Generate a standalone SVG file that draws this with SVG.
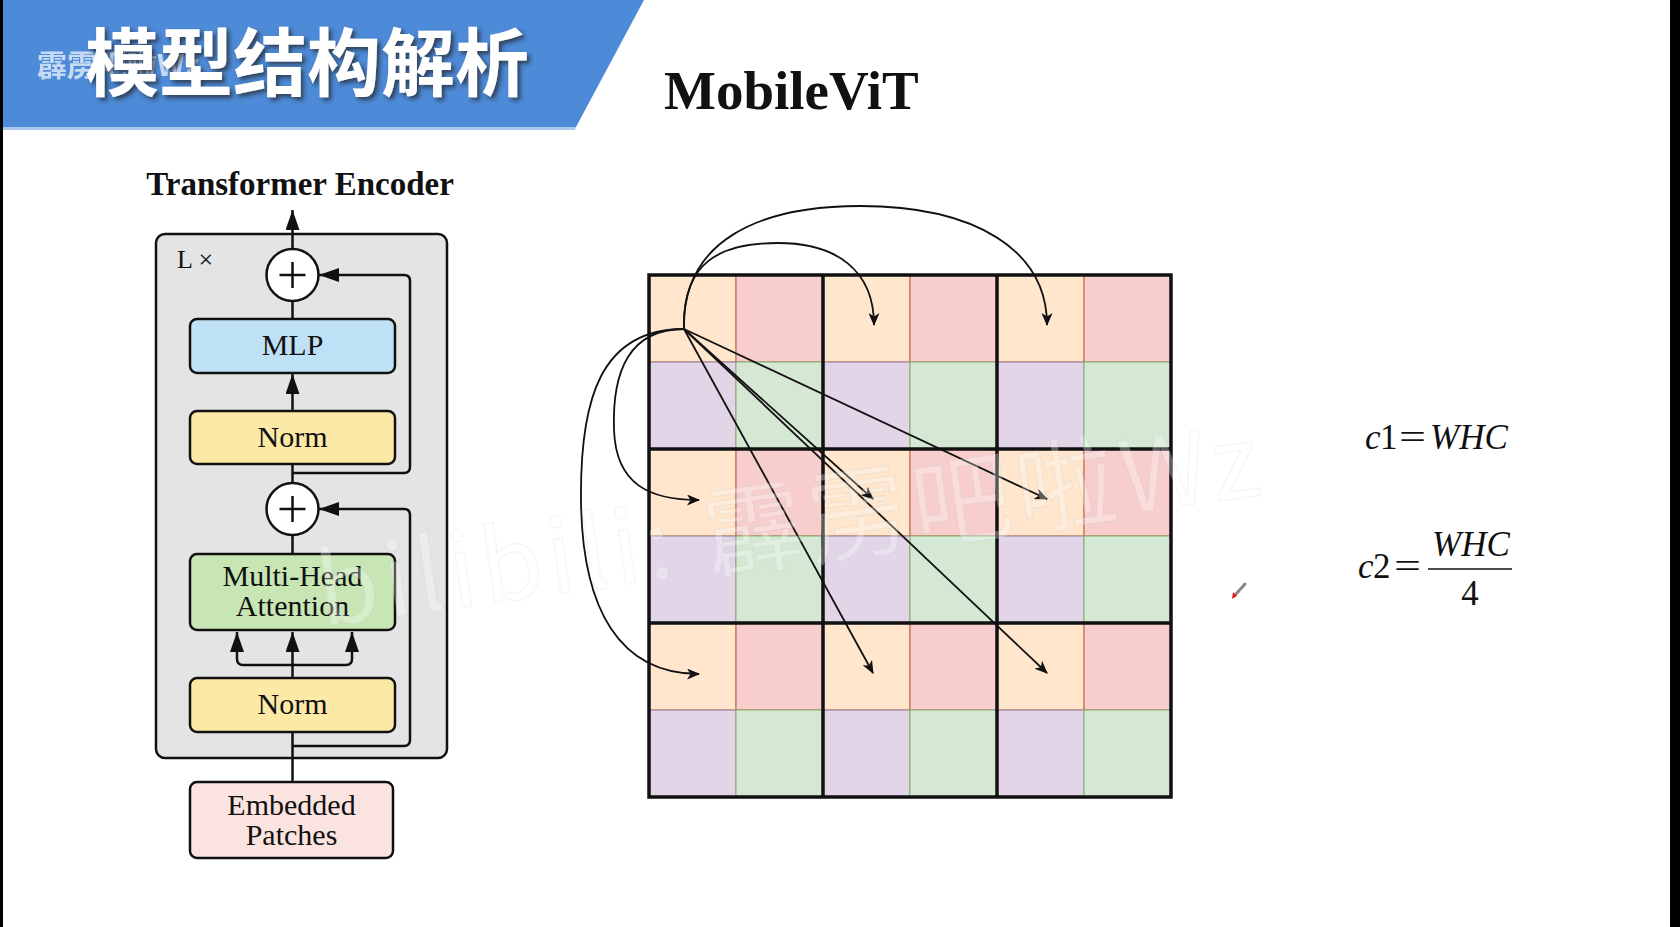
<svg xmlns="http://www.w3.org/2000/svg" width="1680" height="927" viewBox="0 0 1680 927">
<style>
.serif{font-family:"Liberation Serif","Times New Roman",serif;fill:#111}
.box{stroke:#111;stroke-width:2.5}
.ln{fill:none;stroke:#111;stroke-width:2.5}
.ga{fill:none;stroke:#111;stroke-width:1.8}
.pe{fill:#ffe6cc;stroke:#d79b00;stroke-width:1}
.pk{fill:#f8cecc;stroke:#b85450;stroke-width:1}
.lv{fill:#e1d5e7;stroke:#9673a6;stroke-width:1}
.gr{fill:#d5e8d4;stroke:#82b366;stroke-width:1}
.thick{stroke:#111;stroke-width:3.5;fill:none}
.lbl{font-size:30px;text-anchor:middle}
.eq{font-family:"Liberation Serif","Times New Roman",serif;font-size:35px;fill:#111}
</style>
<defs>
<marker id="tri" markerUnits="userSpaceOnUse" markerWidth="20" markerHeight="14" refX="20" refY="7" orient="auto"><path d="M0,0 L20,7 L0,14 z" fill="#111"/></marker>
<marker id="cls" markerUnits="userSpaceOnUse" markerWidth="13" markerHeight="11" refX="12" refY="5.5" orient="auto"><path d="M0,0 L13,5.5 L0,11 L3.5,5.5 z" fill="#111"/></marker>
<filter id="sh" x="-10%" y="-20%" width="130%" height="150%"><feDropShadow dx="3" dy="3" stdDeviation="2" flood-color="#222" flood-opacity="0.7"/></filter>
</defs>
<rect width="1680" height="927" fill="#ffffff"/>
<rect x="0" y="0" width="3" height="927" fill="#000"/>
<rect x="1670" y="0" width="10" height="927" fill="#000"/>

<g id="header">
<polygon points="3,0 644,0 576,127 3,127" fill="#4d8ad7"/>
<polygon points="3,127 576,127 575,130 3,130" fill="#aac8ef"/>
<text x="37" y="76" font-family="'Noto Sans CJK SC',sans-serif" font-weight="700" font-size="30" fill="#d3e3f7" opacity="0.9">霹雳吧啦Wz</text>
<text x="85" y="90" font-family="'Noto Sans CJK SC',sans-serif" font-weight="700" font-size="74" fill="#ffffff" filter="url(#sh)">模型结构解析</text>
</g>

<text id="title" x="664" y="109" class="serif" font-weight="700" font-size="55">MobileViT</text>

<g id="transformer">
<text x="300" y="195" class="serif" font-weight="700" font-size="33" text-anchor="middle">Transformer Encoder</text>
<g id="outer"><rect x="156" y="234" width="291" height="524" rx="9" fill="#e4e4e4" class="box"/>
<text x="177" y="268" class="serif" font-size="26">L ×</text></g>
<g id="connectors">
<path class="ln" d="M292.5,249 V210" marker-end="url(#tri)"/>
<path class="ln" d="M292.5,301 V319"/>
<path class="ln" d="M292.5,411 V374" marker-end="url(#tri)"/>
<path class="ln" d="M292.5,464 V483"/>
<path class="ln" d="M292.5,535 V554"/>
<path class="ln" d="M292.5,732 V782"/>
<path class="ln" d="M292.5,473 H404 Q410,473 410,467 V281 Q410,275 404,275 H319" marker-end="url(#tri)"/>
<path class="ln" d="M292.5,746 H404 Q410,746 410,740 V515 Q410,509 404,509 H319" marker-end="url(#tri)"/>
<path class="ln" d="M292.5,678 V632" marker-end="url(#tri)"/>
<path class="ln" d="M292.5,665 H243 Q237,665 237,659 V632" marker-end="url(#tri)"/>
<path class="ln" d="M292.5,665 H346 Q352,665 352,659 V632" marker-end="url(#tri)"/>
</g>
<g id="add1"><circle cx="292.5" cy="275" r="26" fill="#fff" class="box"/><path class="ln" d="M279.5,275 H305.5 M292.5,262 V288"/></g>
<g id="mlp"><rect x="190" y="319" width="205" height="54" rx="7" fill="#bfe1f6" class="box"/><text x="292.5" y="355" class="serif lbl">MLP</text></g>
<g id="norm1"><rect x="190" y="411" width="205" height="53" rx="7" fill="#fde9a6" class="box"/><text x="292.5" y="447" class="serif lbl">Norm</text></g>
<g id="add2"><circle cx="292.5" cy="509" r="26" fill="#fff" class="box"/><path class="ln" d="M279.5,509 H305.5 M292.5,496 V522"/></g>
<g id="mha"><rect x="190" y="554" width="205" height="76" rx="7" fill="#c8e6b4" class="box"/><text x="292.5" y="586" class="serif lbl">Multi-Head</text><text x="292.5" y="616" class="serif lbl">Attention</text></g>
<g id="norm2"><rect x="190" y="678" width="205" height="54" rx="7" fill="#fde9a6" class="box"/><text x="292.5" y="714" class="serif lbl">Norm</text></g>
<g id="embed"><rect x="190" y="782" width="203" height="76" rx="7" fill="#fbe3e0" class="box"/><text x="291.5" y="815" class="serif lbl">Embedded</text><text x="291.5" y="845" class="serif lbl">Patches</text></g>
</g>

<g id="grid">
<rect x="649" y="275" width="87" height="87" class="pe"/><rect x="736" y="275" width="87" height="87" class="pk"/><rect x="823" y="275" width="87" height="87" class="pe"/><rect x="910" y="275" width="87" height="87" class="pk"/><rect x="997" y="275" width="87" height="87" class="pe"/><rect x="1084" y="275" width="87" height="87" class="pk"/>
<rect x="649" y="362" width="87" height="87" class="lv"/><rect x="736" y="362" width="87" height="87" class="gr"/><rect x="823" y="362" width="87" height="87" class="lv"/><rect x="910" y="362" width="87" height="87" class="gr"/><rect x="997" y="362" width="87" height="87" class="lv"/><rect x="1084" y="362" width="87" height="87" class="gr"/>
<rect x="649" y="449" width="87" height="87" class="pe"/><rect x="736" y="449" width="87" height="87" class="pk"/><rect x="823" y="449" width="87" height="87" class="pe"/><rect x="910" y="449" width="87" height="87" class="pk"/><rect x="997" y="449" width="87" height="87" class="pe"/><rect x="1084" y="449" width="87" height="87" class="pk"/>
<rect x="649" y="536" width="87" height="87" class="lv"/><rect x="736" y="536" width="87" height="87" class="gr"/><rect x="823" y="536" width="87" height="87" class="lv"/><rect x="910" y="536" width="87" height="87" class="gr"/><rect x="997" y="536" width="87" height="87" class="lv"/><rect x="1084" y="536" width="87" height="87" class="gr"/>
<rect x="649" y="623" width="87" height="87" class="pe"/><rect x="736" y="623" width="87" height="87" class="pk"/><rect x="823" y="623" width="87" height="87" class="pe"/><rect x="910" y="623" width="87" height="87" class="pk"/><rect x="997" y="623" width="87" height="87" class="pe"/><rect x="1084" y="623" width="87" height="87" class="pk"/>
<rect x="649" y="710" width="87" height="87" class="lv"/><rect x="736" y="710" width="87" height="87" class="gr"/><rect x="823" y="710" width="87" height="87" class="lv"/><rect x="910" y="710" width="87" height="87" class="gr"/><rect x="997" y="710" width="87" height="87" class="lv"/><rect x="1084" y="710" width="87" height="87" class="gr"/>
<path class="thick" d="M649,275 H1171 V797 H649 Z M823,275 V797 M997,275 V797 M649,449 H1171 M649,623 H1171"/>
</g>

<g id="grid-arrows">
<path class="ga" d="M684,329 C682,262 720,243 778,243 C836,243 874,270 874,325" marker-end="url(#cls)"/>
<path class="ga" d="M684,329 C682,240 760,206 860,206 C975,206 1047,250 1047,325" marker-end="url(#cls)"/>
<path class="ga" d="M684,329 C630,329 612,370 614,430 C616,485 650,500 699,500" marker-end="url(#cls)"/>
<path class="ga" d="M684,329 C600,329 580,400 581,500 C582,610 620,674 699,674" marker-end="url(#cls)"/>
<path class="ga" d="M684,329 L873,499" marker-end="url(#cls)"/>
<path class="ga" d="M684,329 L1047,499" marker-end="url(#cls)"/>
<path class="ga" d="M684,329 L873,673" marker-end="url(#cls)"/>
<path class="ga" d="M684,329 L1047,673" marker-end="url(#cls)"/>
</g>

<g id="watermark">
<text x="322" y="627" transform="rotate(-8 322 627)" font-family="'Noto Sans CJK SC','Noto Sans',sans-serif" font-size="100" fill="#ffffff" fill-opacity="0.3" stroke="#a8b4c8" stroke-opacity="0.12" stroke-width="1.5" textLength="950" lengthAdjust="spacing">bilibili: 霹雳吧啦Wz</text>
</g>

<g id="formula1">
<text class="eq" y="449"><tspan x="1365" font-style="italic">c</tspan><tspan x="1380">1</tspan><tspan x="1399" textLength="27" lengthAdjust="spacingAndGlyphs">=</tspan><tspan x="1430" font-style="italic">WHC</tspan></text>
</g>
<g id="formula2">
<text class="eq" y="578"><tspan x="1358" font-style="italic">c</tspan><tspan x="1373">2</tspan><tspan x="1394" textLength="27" lengthAdjust="spacingAndGlyphs">=</tspan></text>
<text class="eq" x="1432" y="556" font-style="italic">WHC</text>
<line x1="1428" y1="569" x2="1512" y2="569" stroke="#111" stroke-width="1.6"/>
<text class="eq" x="1470" y="605" text-anchor="middle">4</text>
</g>

<g id="cursor">
<path d="M1236,594 L1245,584" stroke="#888" stroke-width="3" stroke-linecap="round"/>
<polygon points="1232,599 1233,592 1237,596" fill="#e02020"/>
</g>
</svg>
